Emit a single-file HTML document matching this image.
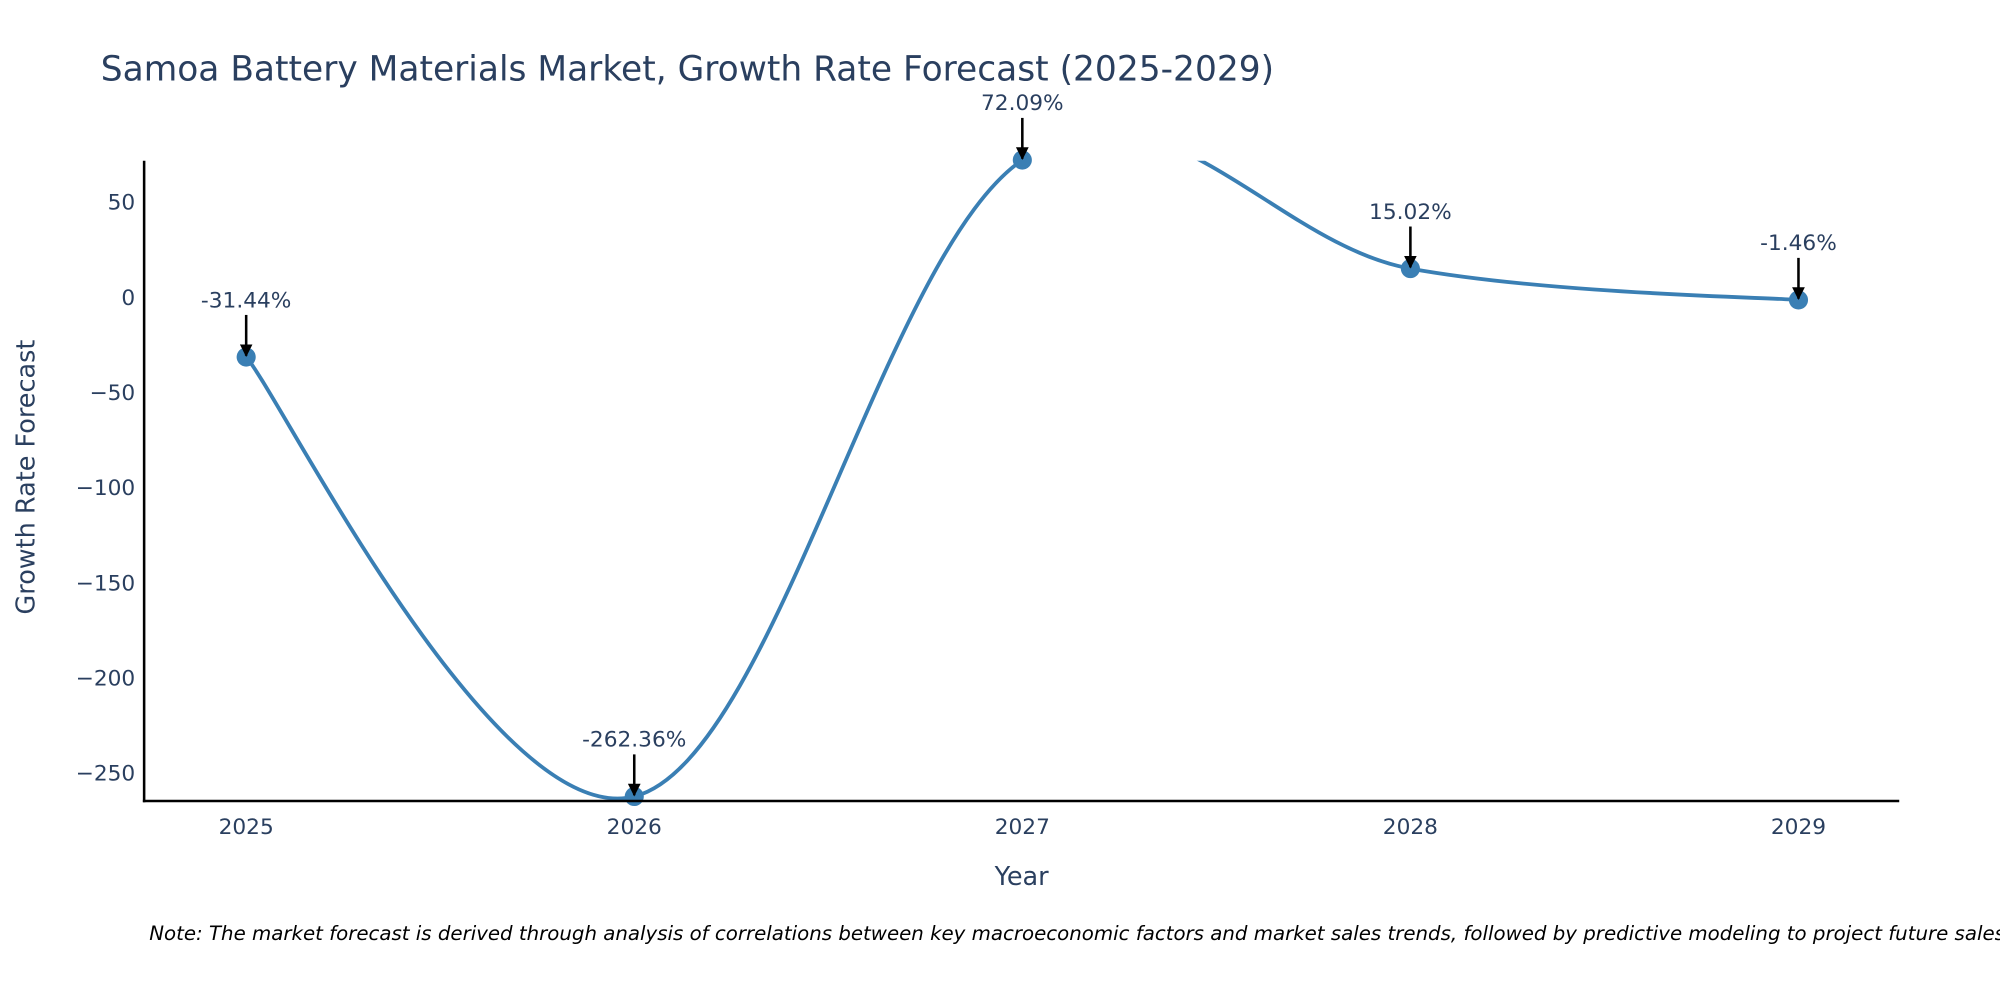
<!DOCTYPE html>
<html><head><meta charset="utf-8"><style>
html,body{margin:0;padding:0;background:#fff;overflow:hidden;}
svg{display:block;font-family:"DejaVu Sans","Liberation Sans",sans-serif;}
</style></head><body>
<svg id="chart" width="2000" height="1000" viewBox="0 0 1568 784" xmlns="http://www.w3.org/2000/svg">
<defs>
<clipPath id="plotclip"><rect x="113" y="126" width="1375" height="502"/></clipPath>
<marker id="ah" viewBox="0 0 10 10" refX="9" refY="5" markerWidth="5" markerHeight="5" orient="auto"><path d="M0,0 L10,5 L0,10 z" fill="#000"/></marker>
</defs>
<text x="79" y="63" font-size="27" fill="#2a3f5f">Samoa Battery Materials Market, Growth Rate Forecast (2025-2029)</text>
<g id="yticks"></g>
<g id="xticks"></g>
<g id="series" clip-path="url(#plotclip)"></g>
<g id="markers"></g>
<g id="annots"></g>
<line x1="113" y1="126" x2="113" y2="629" stroke="#000" stroke-width="2"/>
<line x1="112" y1="628" x2="1489" y2="628" stroke="#000" stroke-width="2"/>
<text x="801" y="694" font-size="20" fill="#2a3f5f" text-anchor="middle">Year</text>
<text transform="translate(27,374) rotate(-90)" font-size="20" fill="#2a3f5f" text-anchor="middle">Growth Rate Forecast</text>
<text x="117" y="737" font-size="15.5" font-style="italic" fill="#000">Note: The market forecast is derived through analysis of correlations between key macroeconomic factors and market sales trends, followed by predictive modeling to project future sales.</text>
</svg>
<script>
const years = [2025, 2026, 2027, 2028, 2029];
const growth = [-31.44, -262.36, 72.09, 15.02, -1.46];
const labels = ["-31.44%", "-262.36%", "72.09%", "15.02%", "-1.46%"];
const yTicks = [50, 0, -50, -100, -150, -200, -250];

const NS = "http://www.w3.org/2000/svg";
const X0 = 193, XSTEP = 304.25;
const Y0 = 233, YSCALE = 1.492;
function xs(v){ return X0 + (v - years[0]) * XSTEP; }
function ys(v){ return Y0 - v * YSCALE; }
function mk(tag, attrs, parent){
  const e = document.createElementNS(NS, tag);
  for (const k in attrs) e.setAttribute(k, attrs[k]);
  parent.appendChild(e); return e;
}
const yt = document.getElementById('yticks');
yTicks.forEach(t => {
  const e = mk('text', {x:106, y:ys(t)+6, 'font-size':17, fill:'#2a3f5f', 'text-anchor':'end'}, yt);
  
  
  e.textContent = t < 0 ? '\u2212' + Math.abs(t) : String(t);
});
const xt = document.getElementById('xticks');
years.forEach(y => {
  const e = mk('text', {x:xs(y), y:654, 'font-size':17, fill:'#2a3f5f', 'text-anchor':'middle'}, xt);
  
  
  e.textContent = String(y);
});
const pts = years.map((y,i) => [xs(y), ys(growth[i])]);
const s = 0.36;
let d = 'M' + pts[0][0] + ',' + pts[0][1];
for (let i = 0; i < pts.length - 1; i++){
  const p0 = pts[Math.max(0,i-1)], p1 = pts[i], p2 = pts[i+1], p3 = pts[Math.min(pts.length-1,i+2)];
  const f1 = i===0 ? 0.5 : 1, f2 = i===pts.length-2 ? 0.5 : 1;
  const c1 = [p1[0] + (p2[0]-p0[0])*s*f1*0.5, p1[1] + (p2[1]-p0[1])*s*f1*0.5];
  const c2 = [p2[0] - (p3[0]-p1[0])*s*f2*0.5, p2[1] - (p3[1]-p1[1])*s*f2*0.5];
  d += ' C' + c1[0] + ',' + c1[1] + ' ' + c2[0] + ',' + c2[1] + ' ' + p2[0] + ',' + p2[1];
}
const line = mk('path', {d:d, fill:'none', stroke:'#3a7fb4', 'stroke-width':3}, document.getElementById('series'));


const mg = document.getElementById('markers');
const ag = document.getElementById('annots');
pts.forEach((p,i) => {
  const c = mk('circle', {cx:p[0], cy:p[1], r:7.5, fill:'#3a7fb4'}, mg);
  
  
  const a = mk('line', {x1:p[0], y1:p[1]-33, x2:p[0], y2:p[1]-1, stroke:'#000', 'stroke-width':2, 'marker-end':'url(#ah)'}, ag);
  
  
  const t = mk('text', {x:p[0], y:p[1]-39, 'font-size':17, fill:'#2a3f5f', 'text-anchor':'middle'}, ag);
  
  
  t.textContent = labels[i];
});
</script>
</body></html>
